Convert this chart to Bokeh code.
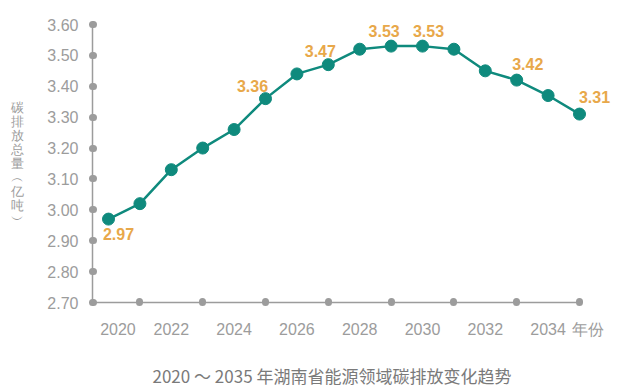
from bokeh.plotting import figure
from bokeh.models import ColumnDataSource, FixedTicker, Range1d, NumeralTickFormatter, Title
from bokeh.core.properties import value
from bokeh.embed import file_html
from bokeh.resources import INLINE

# ---- data ----
years = list(range(2020, 2036))
emissions = [2.97, 3.02, 3.13, 3.20, 3.26, 3.36, 3.44, 3.47, 3.52, 3.53, 3.53, 3.52, 3.45, 3.42, 3.37, 3.31]
label_years = [2020, 2025, 2027, 2029, 2030, 2033, 2035]
label_texts = ["2.97", "3.36", "3.47", "3.53", "3.53", "3.42", "3.31"]
y_ticks = [2.7, 2.8, 2.9, 3.0, 3.1, 3.2, 3.3, 3.4, 3.5, 3.6]
x_label_ticks = [2020, 2022, 2024, 2026, 2028, 2030, 2032, 2034]
x_dot_ticks = [2021, 2023, 2025, 2027, 2029, 2031, 2033, 2035]
x_unit_text = "年份"
y_title = "\n".join(["碳", "排", "放", "总", "量", "︵", "亿", "吨", "︶"])
chart_title = "2020 ～ 2035 年湖南省能源领域碳排放变化趋势"

# ---- styling (offsets for value labels, in px; negative dy = up) ----
lbl_dx = [10, -13, -8, -7, 6, 11, 15]
lbl_dy = [15, -13, -14, -15, -15, -16, -17]

TEAL = "#0f8a7d"
ORANGE = "#e8a84a"
GREY = "#9c9c9c"
W, H = 617, 391

p = figure(width=W, height=H, output_backend="svg", toolbar_location=None,
           x_range=Range1d(2019.49, 2036.21), y_range=Range1d(2.70, 3.60),
           min_border_left=92, min_border_right=0, min_border_top=24, min_border_bottom=89)
p.outline_line_color = None
p.grid.visible = False
p.background_fill_color = "white"
p.border_fill_color = "white"

src = ColumnDataSource(dict(x=years, y=emissions))
p.line("x", "y", source=src, line_color=TEAL, line_width=2.5)
p.scatter("x", "y", source=src, size=12, fill_color=TEAL, line_color=TEAL)

lab_src = ColumnDataSource(dict(
    x=label_years,
    y=[emissions[years.index(yr)] for yr in label_years],
    t=label_texts, dx=lbl_dx, dy=lbl_dy))
p.text("x", "y", text="t", source=lab_src, x_offset="dx", y_offset="dy",
       text_align="center", text_baseline="middle",
       text_font=value("Liberation Sans"), text_font_style="bold",
       text_font_size="16px", text_color=ORANGE)

# y axis
ya = p.yaxis[0]
ya.ticker = FixedTicker(ticks=y_ticks, minor_ticks=[])
ya.formatter = NumeralTickFormatter(format="0.00")
ya.bounds = (2.70, 3.60)
ya.axis_line_color = GREY
ya.axis_line_width = 1.5
ya.major_tick_line_color = GREY
ya.major_tick_line_width = 7
ya.major_tick_line_cap = "round"
ya.major_tick_in = 1
ya.major_tick_out = 0
ya.minor_tick_line_color = None
ya.major_label_text_color = GREY
ya.major_label_text_font = "Liberation Sans"
ya.major_label_text_font_size = "16px"
ya.major_label_standoff = 14
ya.axis_label = y_title
ya.axis_label_orientation = "horizontal"
ya.axis_label_text_font = "Liberation Sans"
ya.axis_label_text_font_size = "13px"
ya.axis_label_text_font_style = "normal"
ya.axis_label_text_color = GREY
ya.axis_label_text_line_height = 0.94
ya.axis_label_standoff = 20

# x axis (labels at even years, dots at odd years, unit text after the last dot)
xa = p.xaxis[0]
xa.ticker = FixedTicker(ticks=[t + (0.3 if t == 2020 else 0) for t in x_label_ticks] + [2035],
                        minor_ticks=x_dot_ticks)
xa.major_label_overrides = {2020.3: "2020", 2035: "\u3000" + x_unit_text}
xa.bounds = (2019.49, 2035)
xa.axis_line_color = GREY
xa.axis_line_width = 1.5
xa.major_tick_line_color = None
xa.major_tick_in = 0
xa.major_tick_out = 0
xa.minor_tick_line_color = GREY
xa.minor_tick_line_width = 7
xa.minor_tick_line_cap = "round"
xa.minor_tick_in = 1
xa.minor_tick_out = 0
xa.major_label_text_color = GREY
xa.major_label_text_font = "Liberation Sans"
xa.major_label_text_font_size = "16px"
xa.major_label_standoff = 18
# tiny invisible spacer between tick labels and the chart title
xa.axis_label = "\u3000"
xa.axis_label_text_font_size = "1px"
xa.axis_label_standoff = 14

p.add_layout(Title(text=chart_title, align="left", offset=60, standoff=4,
                   text_font="Noto Sans CJK SC", text_font_size="17px",
                   text_font_style="normal", text_color="#7a7a7a"), "below")

open("out.html", "w").write(file_html(p, INLINE))
